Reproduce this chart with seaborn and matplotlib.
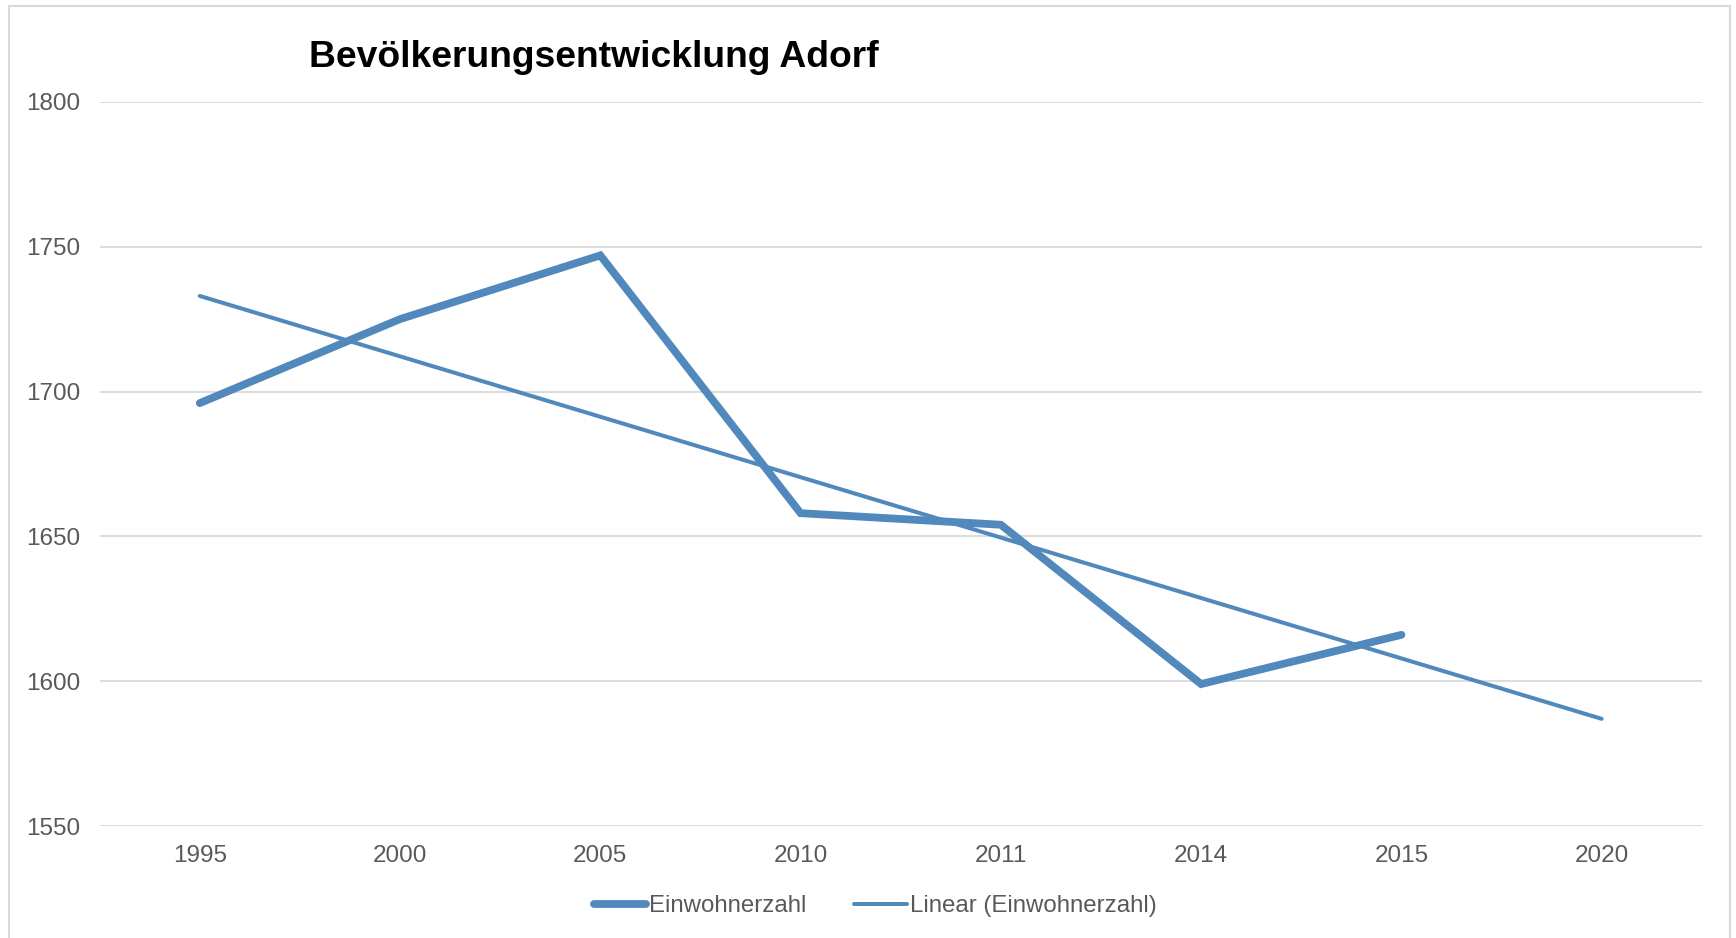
import numpy as np
import matplotlib
matplotlib.use("Agg")
import matplotlib.pyplot as plt
from matplotlib.lines import Line2D
from matplotlib.patches import Rectangle
import seaborn as sns

# data
years = ["1995", "2000", "2005", "2010", "2011", "2014", "2015", "2020"]
einwohner = [1696, 1725, 1747, 1658, 1654, 1599, 1616]
trend_years = ["1995", "2020"]
trend_values = [1733, 1587]

line_color = "#5189BC"
text_color = "#595959"
grid_color = "#D9D9D9"

sns.set_theme(style="white")
plt.rcParams["font.family"] = ["Liberation Sans", "DejaVu Sans"]

fig = plt.figure(figsize=(17.36, 9.38), dpi=100)
ax = fig.add_axes([0.0574, 0.1194, 0.9229, 0.772])

pos = {y: i for i, y in enumerate(years)}
x_pop = [pos[y] for y in years[:len(einwohner)]]
x_trend = [pos[y] for y in trend_years]

sns.lineplot(x=x_trend, y=trend_values, ax=ax, color=line_color, linewidth=2.9,
             solid_capstyle="round", zorder=3)
sns.lineplot(x=x_pop, y=einwohner, ax=ax, color=line_color, linewidth=5.6,
             solid_capstyle="round", solid_joinstyle="miter", zorder=4)

ax.set_xlim(-0.5, len(years) - 0.5)
ax.set_ylim(1550, 1800)
ax.set_xticks(range(len(years)))
ax.set_xticklabels(years)
ax.set_yticks([1550, 1600, 1650, 1700, 1750, 1800])
ax.tick_params(axis="both", length=0, labelsize=17.5, labelcolor=text_color)
ax.tick_params(axis="y", pad=14)
ax.tick_params(axis="x", pad=14)
ax.set_xlabel("")
ax.set_ylabel("")
ax.grid(axis="y", color=grid_color, linewidth=1.3)
ax.grid(axis="x", visible=False)
for s in ax.spines.values():
    s.set_visible(False)

fig.text(0.342, 0.939, "Bevölkerungsentwicklung Adorf", ha="center", va="center",
         fontsize=26.8, fontweight="bold", color="black")

handles = [
    Line2D([], [], color=line_color, linewidth=5.6, solid_capstyle="round"),
    Line2D([], [], color=line_color, linewidth=2.9, solid_capstyle="round"),
]
fig.legend(handles, ["Einwohnerzahl", "Linear (Einwohnerzahl)"], loc="center",
           bbox_to_anchor=(0.504, 0.034), ncol=2, frameon=False, fontsize=17.3,
           labelcolor=text_color, handlelength=2.2, handletextpad=0.1, columnspacing=2.0)

# outer chart frame
fig.patches.append(Rectangle((0.0052, -0.05), 0.9914, 1.044, transform=fig.transFigure,
                             fill=False, edgecolor="#D9D9D9", linewidth=1.5))

fig.savefig("out.png", dpi=100)
